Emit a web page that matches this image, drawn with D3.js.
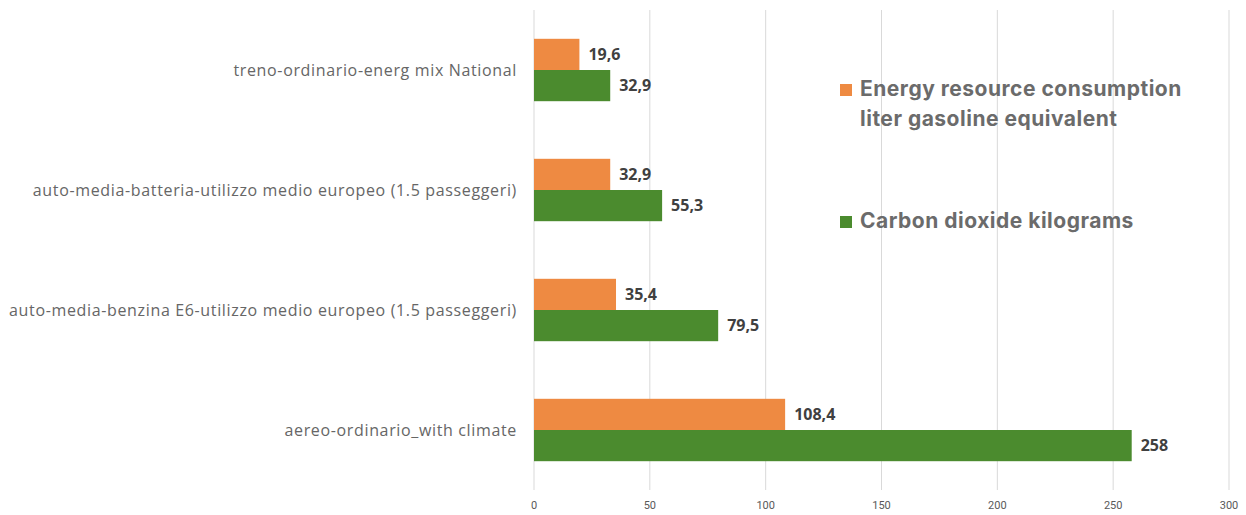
<!DOCTYPE html>
<html>
<head>
<meta charset="utf-8">
<script src="https://cdn.jsdelivr.net/npm/d3@7"></script>
<style>
  body { margin: 0; background: #fff; }
  svg { display: block; }
</style>
</head>
<body>
<div class="container"></div>
<script>
// chart data
const categories = [
    "treno-ordinario-energ mix National",
    "auto-media-batteria-utilizzo medio europeo (1.5 passeggeri)",
    "auto-media-benzina E6-utilizzo medio europeo (1.5 passeggeri)",
    "aereo-ordinario_with climate",
];
const energyValues = [19.6, 32.9, 35.4, 108.4];
const co2Values = [32.9, 55.3, 79.5, 258];
const seriesNames = [
    ["Energy resource consumption", "liter gasoline equivalent"],
    ["Carbon dioxide kilograms"],
];
const xTicks = [0, 50, 100, 150, 200, 250, 300];

const width = 1246;
const height = 515;
const margin = { top: 10, right: 17, bottom: 25, left: 534 };
const colors = ["#EE8A42", "#4B8B2E"];

const svg = d3
    .select(".container")
    .append("svg")
    .attr("width", width)
    .attr("height", height);

const x = d3.scaleLinear().domain([0, 300]).range([margin.left, width - margin.right]);
const y = d3
    .scaleBand()
    .domain(categories)
    .range([margin.top, height - margin.bottom])
    .paddingInner(0.48)
    .paddingOuter(0.24);
const ySub = d3.scaleBand().domain([0, 1]).range([0, y.bandwidth()]);

// gridlines
svg.append("g")
    .selectAll("line")
    .data(xTicks)
    .enter()
    .append("line")
    .attr("x1", (d) => x(d))
    .attr("x2", (d) => x(d))
    .attr("y1", margin.top)
    .attr("y2", height - margin.bottom)
    .attr("stroke", "#d9d9d9")
    .attr("stroke-width", 1);

// tick labels
svg.append("g")
    .selectAll("text")
    .data(xTicks)
    .enter()
    .append("text")
    .attr("x", (d) => x(d))
    .attr("y", height - 6)
    .attr("text-anchor", "middle")
    .attr("font-family", "Roboto, sans-serif")
    .attr("font-size", "11px")
    .attr("fill", "#595959")
    .text((d) => d);

const rows = categories.map((c, i) => ({ cat: c, vals: [energyValues[i], co2Values[i]] }));

const group = svg
    .selectAll("g.row")
    .data(rows)
    .enter()
    .append("g")
    .attr("class", "row")
    .attr("transform", (d) => `translate(0, ${y(d.cat)})`);

group
    .selectAll("rect")
    .data((d) => d.vals)
    .enter()
    .append("rect")
    .attr("x", x(0))
    .attr("y", (d, i) => ySub(i))
    .attr("width", (d) => x(d) - x(0))
    .attr("height", ySub.bandwidth())
    .attr("fill", (d, i) => colors[i]);

const fmt = (v) => String(v).replace(".", ",");

group
    .selectAll("text.val")
    .data((d) => d.vals)
    .enter()
    .append("text")
    .attr("class", "val")
    .attr("x", (d) => x(d) + 9)
    .attr("y", (d, i) => ySub(i) + ySub.bandwidth() / 2)
    .attr("dy", "0.35em")
    .attr("font-family", "'Open Sans', sans-serif")
    .attr("font-weight", "bold")
    .attr("font-size", "16px")
    .attr("fill", "#404040")
    .text((d) => fmt(d));

// category labels
svg.append("g")
    .selectAll("text")
    .data(categories)
    .enter()
    .append("text")
    .attr("x", 517)
    .attr("y", (d) => y(d) + y.bandwidth() / 2)
    .attr("dy", "0.35em")
    .attr("text-anchor", "end")
    .attr("font-family", "'Open Sans', sans-serif")
    .attr("font-size", "16px")
    .attr("letter-spacing", "0.65px")
    .attr("fill", "#666666")
    .text((d) => d);

// legend
const legend = svg.append("g").attr("transform", "translate(840, 0)");
const legendBase = [96, 228];

seriesNames.forEach((lines, i) => {
    legend
        .append("rect")
        .attr("x", 0)
        .attr("y", legendBase[i] - 12)
        .attr("width", 12)
        .attr("height", 12)
        .attr("fill", colors[i]);

    const t = legend
        .append("text")
        .attr("y", legendBase[i])
        .attr("font-family", "Inter, 'Open Sans', sans-serif")
        .attr("font-weight", "bold")
        .attr("font-size", "21px")
        .attr("letter-spacing", "0.5px")
        .attr("fill", "#6b6b6b");

    lines.forEach((line, j) => {
        t.append("tspan")
            .attr("x", 20)
            .attr("dy", j === 0 ? 0 : 30)
            .text(line);
    });
});
</script>
</body>
</html>
